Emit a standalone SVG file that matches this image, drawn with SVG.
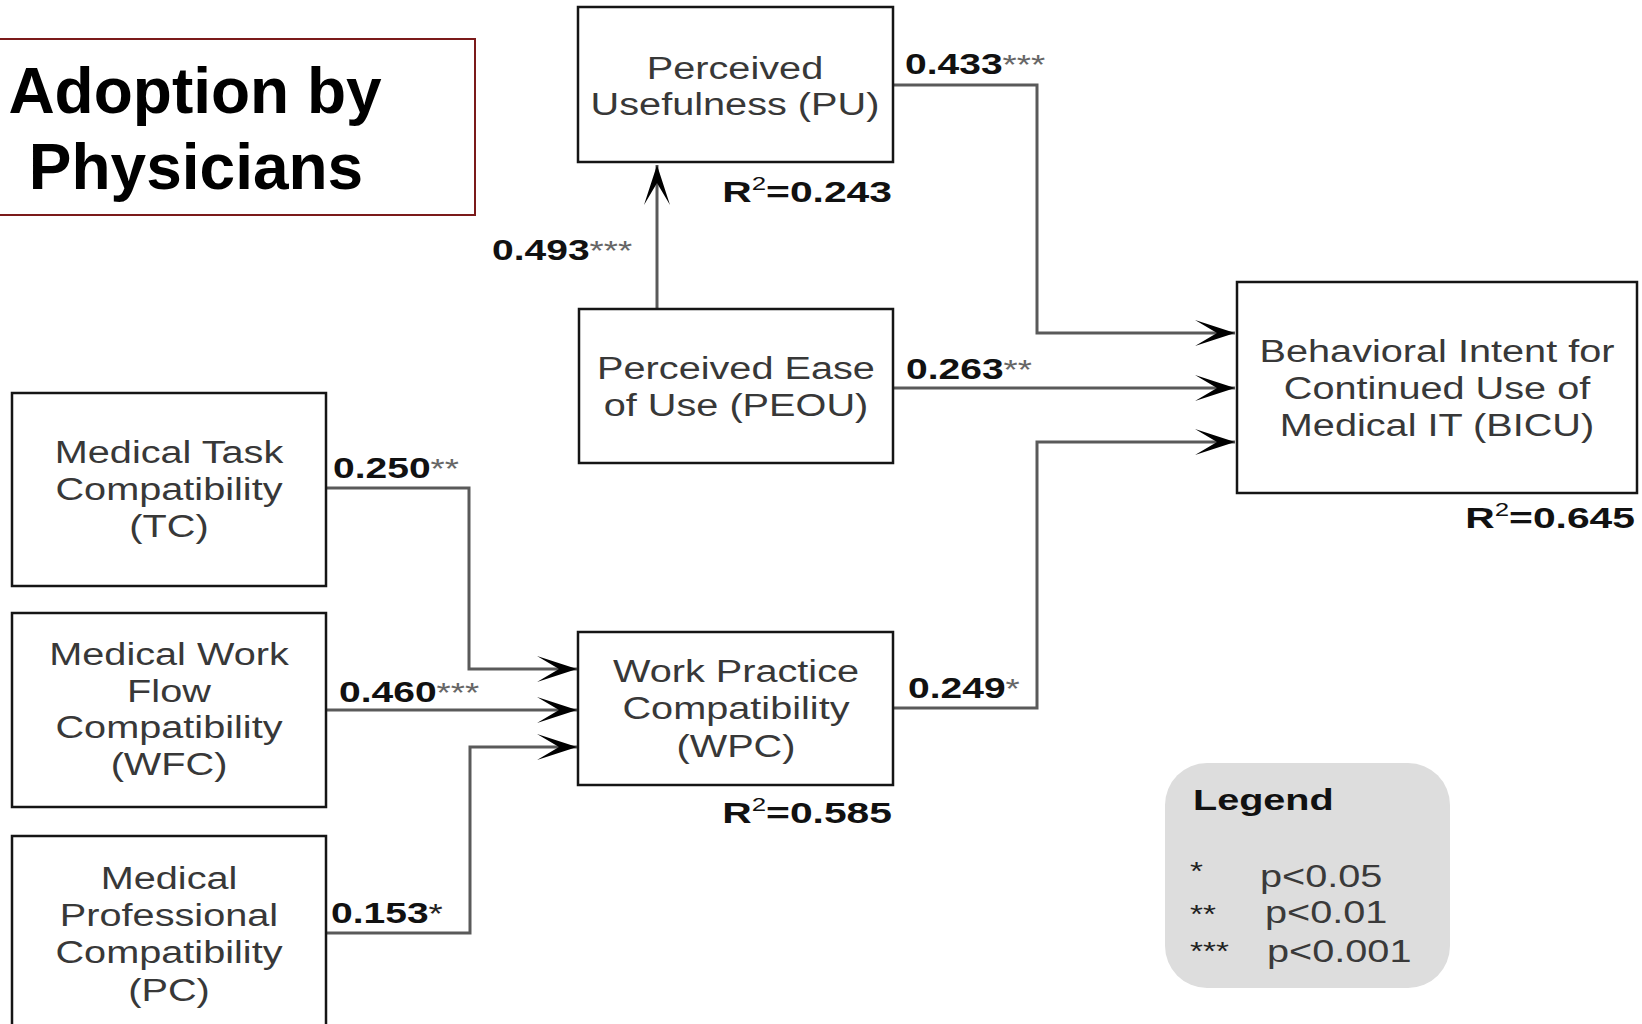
<svg xmlns="http://www.w3.org/2000/svg" width="1642" height="1024" viewBox="0 0 1642 1024">
  <style>
    .box { fill: #ffffff; stroke: #151515; stroke-width: 2.5; }
    .node { font-family: "Liberation Sans", Arial, sans-serif; font-size: 31px; fill: #383838; text-anchor: middle; }
    .lbl { font-family: "Liberation Sans", Arial, sans-serif; font-size: 30px; font-weight: bold; fill: #111111; }
    .st { font-size: 28px; font-weight: normal; fill: #666666; }
    .sup { font-size: 19px; font-weight: normal; }
    .conn { fill: none; stroke: #5a5a5a; stroke-width: 3; }
    .title { font-family: "Liberation Sans", Arial, sans-serif; font-size: 64px; font-weight: bold; fill: #000000; text-anchor: middle; }
    .leg { font-family: "Liberation Sans", Arial, sans-serif; font-size: 31px; fill: #3a3a3a; }
  </style>
  <defs>
    <marker id="arrow" markerUnits="userSpaceOnUse" viewBox="-42 -15 44 30" markerWidth="44" markerHeight="30" refX="0" refY="0" orient="auto">
      <path d="M0,0 L-40,-13 L-18,0 L-40,13 Z" fill="#000000"/>
    </marker>
  </defs>

  <rect width="1642" height="1024" fill="#ffffff"/>

  <!-- Title -->
  <g id="title">
    <rect x="-1" y="39" width="476" height="176" fill="#ffffff" stroke="#7b1a1a" stroke-width="2"/>
    <text class="title" x="195" y="113">Adoption by</text>
    <text class="title" x="196" y="189">Physicians</text>
  </g>

  <!-- Connectors -->
  <g id="connectors">
    <path class="conn" d="M657,309 V165" marker-end="url(#arrow)"/>
    <path class="conn" d="M893,85 H1037 V333 H1235" marker-end="url(#arrow)"/>
    <path class="conn" d="M893,388 H1235" marker-end="url(#arrow)"/>
    <path class="conn" d="M893,708 H1037 V442 H1235" marker-end="url(#arrow)"/>
    <path class="conn" d="M326,488 H469 V669 H577" marker-end="url(#arrow)"/>
    <path class="conn" d="M326,710 H577" marker-end="url(#arrow)"/>
    <path class="conn" d="M326,933 H470 V747 H577" marker-end="url(#arrow)"/>
  </g>

  <!-- Path coefficients -->
  <g id="coefficients">
    <text class="lbl" transform="translate(492,260) scale(1.3,1)">0.493<tspan class="st">***</tspan></text>
    <text class="lbl" transform="translate(905,74) scale(1.3,1)">0.433<tspan class="st">***</tspan></text>
    <text class="lbl" transform="translate(906,379) scale(1.3,1)">0.263<tspan class="st">**</tspan></text>
    <text class="lbl" transform="translate(908,698) scale(1.3,1)">0.249<tspan class="st">*</tspan></text>
    <text class="lbl" transform="translate(333,478) scale(1.3,1)">0.250<tspan class="st">**</tspan></text>
    <text class="lbl" transform="translate(339,702) scale(1.3,1)">0.460<tspan class="st">***</tspan></text>
    <text class="lbl" transform="translate(331,923) scale(1.3,1)">0.153<tspan class="st" style="fill:#222">*</tspan></text>
  </g>

  <!-- Explained variance -->
  <g id="r2">
    <text class="lbl" text-anchor="end" transform="translate(892,202) scale(1.36,1)">R<tspan class="sup" dy="-12">2</tspan><tspan dy="12">=0.243</tspan></text>
    <text class="lbl" text-anchor="end" transform="translate(892,823) scale(1.36,1)">R<tspan class="sup" dy="-12">2</tspan><tspan dy="12">=0.585</tspan></text>
    <text class="lbl" text-anchor="end" transform="translate(1635,528) scale(1.36,1)">R<tspan class="sup" dy="-12">2</tspan><tspan dy="12">=0.645</tspan></text>
  </g>

  <!-- Constructs -->
  <g id="PU">
    <rect class="box" x="578" y="7" width="315" height="155"/>
    <text class="node" transform="translate(735,0) scale(1.28,1)"><tspan x="0" y="79">Perceived</tspan><tspan x="0" y="115">Usefulness (PU)</tspan></text>
  </g>
  <g id="PEOU">
    <rect class="box" x="579" y="309" width="314" height="154"/>
    <text class="node" transform="translate(736,0) scale(1.28,1)"><tspan x="0" y="379">Perceived Ease</tspan><tspan x="0" y="416">of Use (PEOU)</tspan></text>
  </g>
  <g id="BICU">
    <rect class="box" x="1237" y="282" width="400" height="211"/>
    <text class="node" transform="translate(1437,0) scale(1.28,1)"><tspan x="0" y="362">Behavioral Intent for</tspan><tspan x="0" y="399">Continued Use of</tspan><tspan x="0" y="436">Medical IT (BICU)</tspan></text>
  </g>
  <g id="TC">
    <rect class="box" x="12" y="393" width="314" height="193"/>
    <text class="node" transform="translate(169,0) scale(1.28,1)"><tspan x="0" y="463">Medical Task</tspan><tspan x="0" y="500">Compatibility</tspan><tspan x="0" y="537">(TC)</tspan></text>
  </g>
  <g id="WFC">
    <rect class="box" x="12" y="613" width="314" height="194"/>
    <text class="node" transform="translate(169,0) scale(1.28,1)"><tspan x="0" y="665">Medical Work</tspan><tspan x="0" y="702">Flow</tspan><tspan x="0" y="738">Compatibility</tspan><tspan x="0" y="775">(WFC)</tspan></text>
  </g>
  <g id="PC">
    <rect class="box" x="12" y="836" width="314" height="200"/>
    <text class="node" transform="translate(169,0) scale(1.28,1)"><tspan x="0" y="889">Medical</tspan><tspan x="0" y="926">Professional</tspan><tspan x="0" y="963">Compatibility</tspan><tspan x="0" y="1001">(PC)</tspan></text>
  </g>
  <g id="WPC">
    <rect class="box" x="578" y="632" width="315" height="153"/>
    <text class="node" transform="translate(736,0) scale(1.28,1)"><tspan x="0" y="682">Work Practice</tspan><tspan x="0" y="719">Compatibility</tspan><tspan x="0" y="757">(WPC)</tspan></text>
  </g>

  <!-- Legend -->
  <g id="legend">
    <rect x="1165" y="763" width="285" height="225" rx="42" ry="42" fill="#dddddd"/>
    <text class="lbl" transform="translate(1193,810) scale(1.32,1)">Legend</text>
    <text class="leg" transform="translate(1190,880) scale(1.28,1)" style="font-size:26px;fill:#222">*</text>
    <text class="leg" transform="translate(1190,923) scale(1.28,1)" style="font-size:26px;fill:#222">**</text>
    <text class="leg" transform="translate(1190,960) scale(1.28,1)" style="font-size:26px;fill:#222">***</text>
    <text class="leg" transform="translate(1260,887) scale(1.28,1)">p&lt;0.05</text>
    <text class="leg" transform="translate(1265,923) scale(1.28,1)">p&lt;0.01</text>
    <text class="leg" transform="translate(1267,962) scale(1.28,1)">p&lt;0.001</text>
  </g>
</svg>
